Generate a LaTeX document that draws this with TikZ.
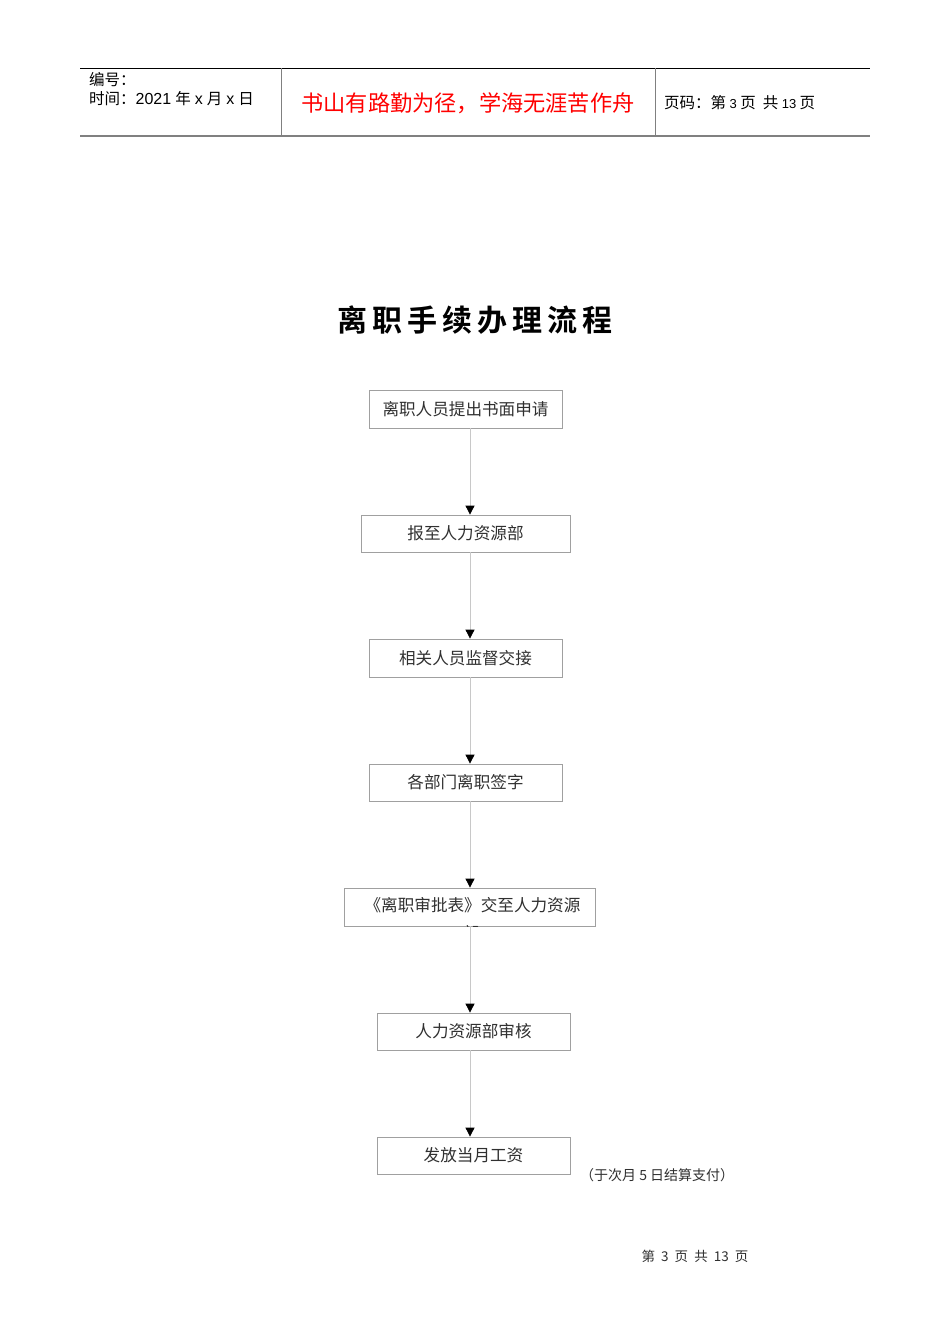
\documentclass[tikz,border=0pt]{standalone}
\usepackage{fontspec}
\setmainfont{Liberation Sans}
\newfontfamily\cjk{Noto Sans CJK SC}
\newfontfamily\cjkb{Noto Sans CJK SC}[BoldFont={Noto Sans CJK SC Bold}]
\usetikzlibrary{arrows.meta}
\definecolor{boxgray}{HTML}{A0A0A0}
\definecolor{linegray}{HTML}{C8C8C8}
\definecolor{txtgray}{HTML}{303030}
\newcommand{\latn}[1]{{\fontspec{Liberation Sans}\fontsize{16}{17}\selectfont #1}}
\tikzset{
  box/.style={draw=boxgray, line width=0.8pt, inner sep=0pt, text=txtgray,
    font=\cjk\fontsize{16.6}{18}\selectfont},
  conn/.style={draw=linegray, line width=0.8pt,
    -{Triangle[width=9pt,length=9pt,color=black,fill=black]}},
  hdr/.style={anchor=west, inner sep=0pt, font=\cjk\fontsize{15.5}{17}\selectfont},
}
\begin{document}
\begin{tikzpicture}[x=1pt,y=1pt]
\useasboundingbox[fill=white] (0,0) rectangle (950,-1344);
% header
\draw[black, line width=0.8pt] (80,-68) -- (870,-68);
\draw[gray, line width=2pt] (80,-136) -- (870,-136);
\draw[gray, line width=1pt] (281,-68) -- (281,-136);
\draw[gray, line width=1pt] (655,-68) -- (655,-136);
\node[hdr] (h1) at (89,-80) {编号：};
\node[hdr] (h2) at (89,-99) {时间：\latn{2021}\hspace{4pt}年\hspace{4pt}\latn{x}\hspace{4pt}月\hspace{4pt}\latn{x}\hspace{4pt}日};
\node[inner sep=0pt, text=red, font=\cjk\fontsize{22.2}{24}\selectfont] (motto) at (468,-103) {书山有路勤为径，学海无涯苦作舟};
\node[hdr] (h3) at (664,-103) {页码：第 {\fontspec{Liberation Sans}\fontsize{13}{14}\selectfont 3} 页\ \ 共 {\fontspec{Liberation Sans}\fontsize{13}{14}\selectfont 13} 页};
% title
\node[inner sep=0pt, font=\cjkb\bfseries\fontsize{30}{32}\selectfont] (title) at (475,-320)
  {离\hspace{5pt}职\hspace{5pt}手\hspace{5pt}续\hspace{5pt}办\hspace{5pt}理\hspace{5pt}流\hspace{5pt}程};
% boxes
\node[box, minimum width=193, minimum height=38] (b1) at (465.5,-409) {离职人员提出书面申请};
\node[box, minimum width=209, minimum height=37] (b2) at (465.5,-533.5) {报至人力资源部};
\node[box, minimum width=193, minimum height=38] (b3) at (465.5,-658) {相关人员监督交接};
\node[box, minimum width=193, minimum height=37] (b4) at (465.5,-782.5) {各部门离职签字};
\node[box, minimum width=251, minimum height=38] (b5) at (469.5,-907) {};
\node[inner sep=0pt, text=txtgray, font=\cjk\fontsize{16.6}{18}\selectfont] (b5t) at (472.5,-905) {《离职审批表》交至人力资源};
\begin{scope}
  \clip (344,-888) rectangle (595,-926);
  \node[inner sep=0pt, text=txtgray, font=\cjk\fontsize{16.6}{18}\selectfont] (b5u) at (471,-933) {部};
\end{scope}
\node[box, minimum width=193, minimum height=37] (b6) at (473.5,-1031.5) {人力资源部审核};
\node[box, minimum width=193, minimum height=37] (b7) at (473.5,-1155.5) {发放当月工资};
\node[anchor=west, inner sep=0pt, text=txtgray, font=\cjk\fontsize{14}{16}\selectfont] (note) at (580,-1175) {（于次月 5 日结算支付）};
% connectors
\coordinate (ax) at (470,0);
\draw[conn] (b1.south -| ax) -- (b2.north -| ax);
\draw[conn] (b2.south -| ax) -- (b3.north -| ax);
\draw[conn] (b3.south -| ax) -- (b4.north -| ax);
\draw[conn] (b4.south -| ax) -- (b5.north -| ax);
\draw[conn] (b5.south -| ax) -- (b6.north -| ax);
\draw[conn] (b6.south -| ax) -- (b7.north -| ax);
% footer
\node[inner sep=0pt, text=txtgray, font=\cjk\fontsize{13.5}{15}\selectfont] (foot) at (695,-1256) {第 \ 3 \ 页 \ 共 \ 13 \ 页};
\end{tikzpicture}
\end{document}
